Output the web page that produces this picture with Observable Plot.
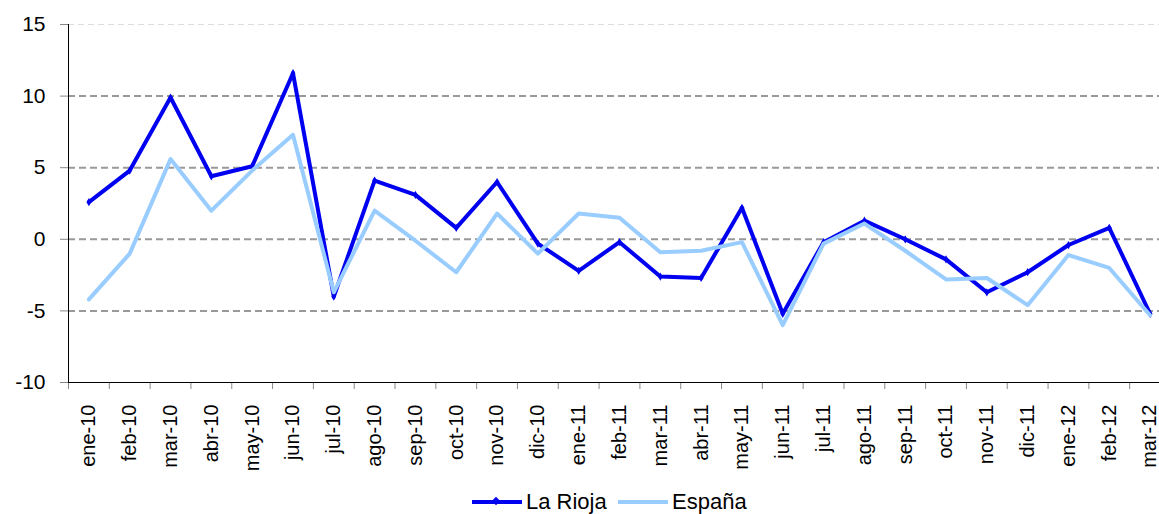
<!DOCTYPE html>
<html>
<head>
<meta charset="utf-8">
<script src="https://cdn.jsdelivr.net/npm/d3@7"></script>
<script src="https://cdn.jsdelivr.net/npm/@observablehq/plot@0.6"></script>
<style>
  html, body { margin: 0; padding: 0; background: #fff; overflow: hidden; }
  #chart svg { overflow: hidden; }
  #legend { position: relative; height: 34px; font-family: "Liberation Sans", Arial, sans-serif; font-size: 22px; color: #000; }
  .item { position: absolute; top: 9px; display: flex; align-items: center; }
  .sw { width: 50px; height: 4px; margin-right: 4px; position: relative; }
</style>
</head>
<body>
<div id="chart"></div>
<div id="legend"></div>
<script>
const months = ["ene-10","feb-10","mar-10","abr-10","may-10","jun-10","jul-10","ago-10","sep-10","oct-10","nov-10","dic-10",
  "ene-11","feb-11","mar-11","abr-11","may-11","jun-11","jul-11","ago-11","sep-11","oct-11","nov-11","dic-11",
  "ene-12","feb-12","mar-12"];
const laRioja = [2.6, 4.8, 9.9, 4.4, 5.1, 11.6, -4.0, 4.1, 3.1, 0.8, 4.0, -0.3,
  -2.2, -0.2, -2.6, -2.7, 2.2, -5.2, -0.2, 1.3, 0.0, -1.4, -3.7, -2.3,
  -0.4, 0.8, -5.2];
const espana = [-4.2, -1.0, 5.6, 2.0, 4.8, 7.3, -3.7, 2.0, -0.1, -2.3, 1.8, -1.0,
  1.8, 1.5, -0.9, -0.8, -0.2, -6.0, -0.3, 1.1, -0.8, -2.8, -2.7, -4.6,
  -1.1, -2.0, -5.3];
const yTicks = [-10, -5, 0, 5, 10, 15];
const gridDark = [-5, 0, 5, 10];
const gridLight = [15];
const series = [
  {name: "La Rioja", color: "#0000F0"},
  {name: "España", color: "#99CCFF"}
];

const rows = months.map((m, i) => ({i, m, rioja: laRioja[i], espana: espana[i]}));
const idx = d3.range(months.length);
const bounds = d3.range(months.length + 1).map(k => k - 0.5);

const chart = Plot.plot({
  width: 1159,
  height: 480,
  marginLeft: 68,
  marginRight: -11,
  marginTop: 24,
  marginBottom: 98,
  style: {fontFamily: "'Liberation Sans', Arial, sans-serif", background: "#fff"},
  x: {domain: [-0.5, months.length - 0.5], label: null},
  y: {domain: [-10, 15], label: null},
  marks: [
    Plot.ruleY(gridLight, {stroke: "#dddddd", strokeWidth: 1, strokeDasharray: "6,4"}),
    Plot.ruleY(gridDark, {stroke: "#999999", strokeWidth: 2, strokeDasharray: "7,4"}),
    Plot.axisY({ticks: yTicks, label: null, tickSize: 8, tickPadding: 15, stroke: "#888", fill: "#000", fontSize: 21, tickFormat: d => String(d).replace("−","-")}),
    Plot.axisX({ticks: bounds, label: null, tickSize: 7, stroke: "#888", tickFormat: () => ""}),
    Plot.axisX({ticks: idx, label: null, tickSize: 0, tickPadding: 22, tickRotate: -90, fontSize: 20, fill: "#000", tickFormat: i => months[i]}),
    Plot.ruleX([-0.5], {stroke: "#000", strokeWidth: 1}),
    Plot.ruleY([-10], {stroke: "#000", strokeWidth: 1}),
    Plot.line(rows, {x: "i", y: "rioja", stroke: series[0].color, strokeWidth: 4}),
    Plot.dot(rows, {x: "i", y: "rioja", fill: series[0].color, r: 2.5, symbol: "diamond"}),
    Plot.line(rows, {x: "i", y: "espana", stroke: series[1].color, strokeWidth: 4})
  ]
});
document.getElementById("chart").appendChild(chart);

const legend = document.getElementById("legend");
const lefts = [472, 618];
series.forEach((s, k) => {
  const it = document.createElement("div");
  it.className = "item";
  it.style.left = lefts[k] + "px";
  const sw = document.createElement("span");
  sw.className = "sw";
  sw.style.background = s.color;
  if (k === 0) {
    const d = document.createElement("span");
    d.style.cssText = `position:absolute;left:21px;top:-2px;width:6px;height:6px;background:${s.color};transform:rotate(45deg)`;
    sw.appendChild(d);
  }
  const t = document.createElement("span");
  t.textContent = s.name;
  it.appendChild(sw);
  it.appendChild(t);
  legend.appendChild(it);
});
</script>
</body>
</html>
